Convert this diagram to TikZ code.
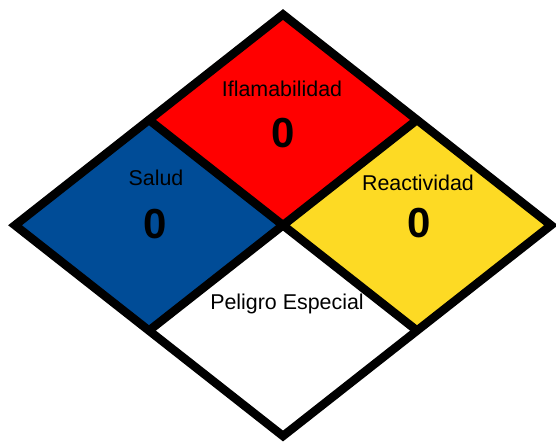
\documentclass[tikz,border=0pt]{standalone}
\usepackage{fontspec}
\setmainfont{Liberation Sans}
\usetikzlibrary{calc}
\definecolor{nfpared}{RGB}{255,0,0}
\definecolor{nfpablue}{RGB}{0,76,151}
\definecolor{nfpayellow}{RGB}{253,218,36}
\begin{document}
\begin{tikzpicture}[x=1pt,y=-1pt,
  lbl/.style={anchor=base,inner sep=0pt,font=\fontsize{21.4}{25}\selectfont},
  num/.style={anchor=base,inner sep=0pt,font=\fontsize{42}{48}\selectfont\bfseries},
  border/.style={draw=black,line width=8.5pt,line join=miter}]
\useasboundingbox (0,0) rectangle (556,443);
\coordinate (T) at (283,14.5);
\coordinate (B) at (283,436);
\coordinate (L) at (15,225.25);
\coordinate (R) at (551,225.25);
\coordinate (C) at (283,225.25);
\coordinate (UL) at ($(T)!0.5!(L)$);
\coordinate (UR) at ($(T)!0.5!(R)$);
\coordinate (LL) at ($(B)!0.5!(L)$);
\coordinate (LR) at ($(B)!0.5!(R)$);
\fill[nfpared] (T) -- (UR) -- (C) -- (UL) -- cycle;
\fill[nfpablue] (UL) -- (C) -- (LL) -- (L) -- cycle;
\fill[nfpayellow] (UR) -- (R) -- (LR) -- (C) -- cycle;
\fill[white] (C) -- (LR) -- (B) -- (LL) -- cycle;
\draw[border] (UL) -- (LR);
\draw[border] (UR) -- (LL);
\draw[border] (T) -- (R) -- (B) -- (L) -- cycle;
\node[lbl] (flam) at (282,97) {Iflamabilidad};
\node[num] (flamn) at (283,148) {0};
\node[lbl] (salud) at (156,186) {Salud};
\node[num] (saludn) at (155,239) {0};
\node[lbl] (react) at (418,191) {Reactividad};
\node[num] (reactn) at (419.5,238) {0};
\node[lbl] (esp) at (287,309) {Peligro Especial};
\end{tikzpicture}
\end{document}
